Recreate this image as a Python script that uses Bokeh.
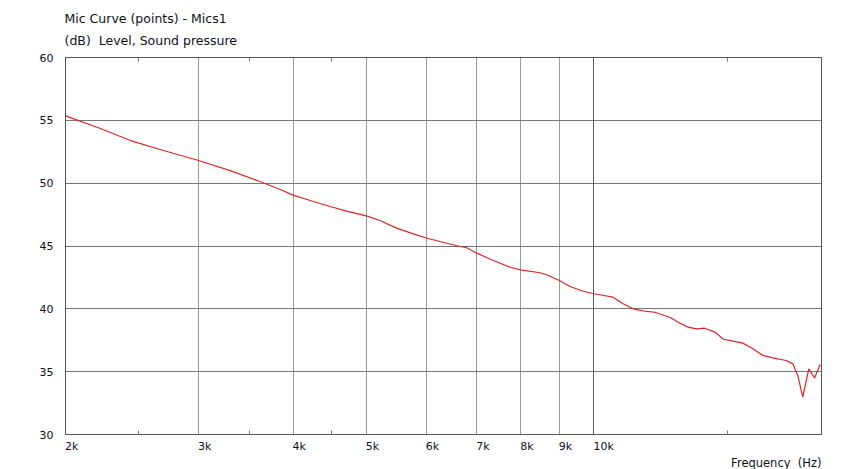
import math
from bokeh.plotting import figure
from bokeh.models import FixedTicker, LogAxis, Grid, Title
from bokeh.embed import file_html
from bokeh.resources import INLINE

# ---- data ----
freq_hz = [2000, 2202, 2438, 2696, 3000, 3303, 3650, 3848, 4000, 4256, 4388, 4478,
           4708, 5000, 5212, 5481, 5768, 6000, 6256, 6652, 6788, 7000, 7360, 7746,
           8000, 8486, 8660, 9000, 9300, 9680, 10000, 10176, 10600, 10930, 11270,
           11740, 12040, 12600, 13050, 13320, 13660, 14010, 14450, 14820, 15270,
           15740, 16230, 16730, 17240, 17960, 18330, 18610, 18890, 19240, 19580, 19920]
level_db = [55.35, 54.45, 53.39, 52.6, 51.8, 51.0, 50.03, 49.5, 49.05, 48.54, 48.3, 48.14,
            47.77, 47.4, 47.03, 46.42, 45.97, 45.64, 45.36, 44.96, 44.86, 44.43, 43.85, 43.31,
            43.1, 42.87, 42.71, 42.25, 41.78, 41.4, 41.2, 41.12, 40.93, 40.4, 40.0,
            39.79, 39.73, 39.33, 38.8, 38.54, 38.41, 38.46, 38.15, 37.6, 37.43,
            37.27, 36.82, 36.29, 36.1, 35.89, 35.62, 34.69, 32.97, 35.23, 34.5, 35.57]

x_major = [2000, 3000, 4000, 5000, 6000, 7000, 8000, 9000, 10000]
x_major_labels = ["2k", "3k", "4k", "5k", "6k", "7k", "8k", "9k", "10k"]
x_minor = [2500, 3500, 4500, 15000]
x_decade = [10000]
y_ticks = [30, 35, 40, 45, 50, 55, 60]
x_lim = (2000, 20000)
y_lim = (30, 60)

title_text = "Mic Curve (points) - Mics1"
subtitle_text = "(dB)\u00a0\u00a0Level, Sound pressure"
xlabel_text = "Frequency\u00a0\u00a0(Hz)"

FONT = "DejaVu Sans"
FS = "11px"
TXT = "#10101a"

W, H = 844, 469
BL, BR, BT, BB = 65, 23, 57, 35
frame_w = W - BL - BR

p = figure(width=W, height=H, x_axis_type="log", x_range=x_lim, y_range=y_lim,
           output_backend="svg", toolbar_location=None,
           min_border_left=BL, min_border_right=BR, min_border_top=BT, min_border_bottom=BB)
p.background_fill_color = "white"
p.border_fill_color = "white"
p.outline_line_color = "#555555"

p.line(freq_hz, level_db, line_color="#dc2626", line_width=1.2)

# tick labels are left-aligned at their tick: shift each label's (centred) anchor
# right by half its estimated rendered width
px_per_decade = frame_w / math.log10(x_lim[1] / x_lim[0])
def half_width(lbl):
    return (7.0 * (len(lbl) - 1) + 6.4) / 2.0
label_pos = [int(round(t * 10 ** ((half_width(l) - 0.5) / px_per_decade)))
             for t, l in zip(x_major, x_major_labels)]

# bottom axis
xa = p.xaxis[0]
xa.ticker = FixedTicker(ticks=label_pos, minor_ticks=x_minor)
xa.major_label_overrides = {t: l for t, l in zip(label_pos, x_major_labels)}
xa.major_tick_in = 0
xa.major_tick_out = 0
xa.minor_tick_in = 4
xa.minor_tick_out = 0
xa.minor_tick_line_color = "#777777"
xa.axis_line_color = "#555555"
xa.major_label_standoff = 5
xa.major_label_text_font = FONT
xa.major_label_text_font_size = FS
xa.major_label_text_color = TXT

# top axis (minor ticks only)
ta = LogAxis(ticker=FixedTicker(ticks=x_major, minor_ticks=x_minor),
             major_label_text_font_size="0px", major_tick_in=0, major_tick_out=0,
             minor_tick_in=4, minor_tick_out=0, minor_tick_line_color="#777777",
             axis_line_color="#555555", major_label_standoff=0)
ta.major_label_overrides = {t: "" for t in x_major}
p.add_layout(ta, "above")

# left axis
ya = p.yaxis[0]
ya.ticker = FixedTicker(ticks=y_ticks)
ya.major_tick_in = 0
ya.major_tick_out = 0
ya.minor_tick_in = 0
ya.minor_tick_out = 0
ya.axis_line_color = "#555555"
ya.major_label_standoff = 12
ya.major_label_text_font = FONT
ya.major_label_text_font_size = FS
ya.major_label_text_color = TXT

# grids
p.xgrid.ticker = FixedTicker(ticks=x_major)
p.xgrid.grid_line_color = "#999999"
p.ygrid.ticker = FixedTicker(ticks=y_ticks)
p.ygrid.grid_line_color = "#777777"
p.add_layout(Grid(dimension=0, ticker=FixedTicker(ticks=x_decade), grid_line_color="#5a5a5a"))

# header texts (closest to plot added first)
p.add_layout(Title(text=subtitle_text, align="left", standoff=19, offset=-1,
                   text_font=FONT, text_font_size="12.5px", text_font_style="normal",
                   text_color=TXT), "above")
p.add_layout(Title(text=title_text, align="left", standoff=-8, offset=-1,
                   text_font=FONT, text_font_size="12.5px", text_font_style="normal",
                   text_color=TXT), "above")
# x-axis name, right aligned under the frame
p.add_layout(Title(text=xlabel_text, align="right", standoff=-4,
                   text_font=FONT, text_font_size="11.5px", text_font_style="normal",
                   text_color=TXT), "below")

open("out.html", "w").write(file_html(p, INLINE))
